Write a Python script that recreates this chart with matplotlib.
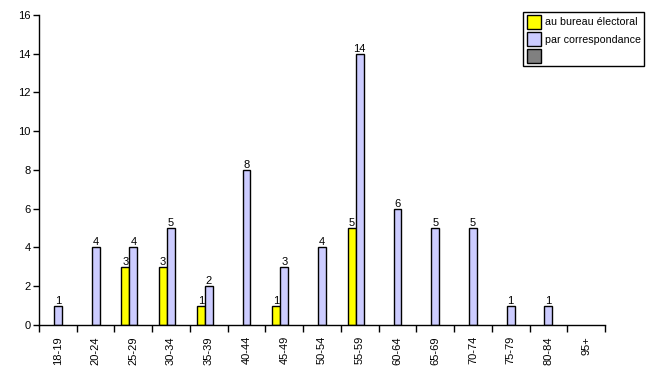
import matplotlib
matplotlib.use("Agg")
import matplotlib.pyplot as plt
import numpy as np
from matplotlib.patches import Patch

plt.rcParams["font.family"] = ["Liberation Sans", "DejaVu Sans"]
plt.rcParams["font.size"] = 8

categories = ["18-19", "20-24", "25-29", "30-34", "35-39", "40-44", "45-49",
              "50-54", "55-59", "60-64", "65-69", "70-74", "75-79", "80-84", "95+"]
bureau = [0, 0, 3, 3, 1, 0, 1, 0, 5, 0, 0, 0, 0, 0, 0]
correspondance = [1, 4, 4, 5, 2, 8, 3, 4, 14, 6, 5, 5, 1, 1, 0]
autre = [0] * len(categories)

series = [("au bureau électoral", bureau, "#ffff00"),
          ("par correspondance", correspondance, "#ccccff"),
          ("", autre, "#808080")]

fig = plt.figure(figsize=(6.53, 3.73), dpi=100)
ax = fig.add_axes([0.0597, 0.1287, 0.8668, 0.8311])

x = np.arange(len(categories)) + 0.5
w = 0.21
for i, (label, vals, color) in enumerate(series):
    offs = (i - 1) * w
    for xi, v in zip(x, vals):
        if v <= 0:
            continue
        ax.bar(xi + offs, v, width=w, color=color, edgecolor="black", linewidth=1.0)
        ax.text(xi + offs, v, str(v), ha="center", va="bottom", fontsize=8)

ax.set_xlim(0, len(categories))
ax.set_ylim(0, 16)
ax.set_yticks(range(0, 17, 2))
ax.set_xticks(np.arange(len(categories) + 1))
ax.set_xticklabels([])
ax.set_xticks(x, minor=True)
ax.set_xticklabels(categories, minor=True, rotation=90)
ax.tick_params(axis="x", which="minor", length=0, pad=8)
ax.tick_params(axis="x", which="major", length=5, width=1)
ax.tick_params(axis="y", length=4, width=1, pad=2)
for s in ("top", "right"):
    ax.spines[s].set_visible(False)
for s in ("left", "bottom"):
    ax.spines[s].set_linewidth(1)

handles = [Patch(facecolor=c, edgecolor="black", label=l) for l, _, c in series]
fig.legend(handles=handles, loc="upper right", bbox_to_anchor=(644 / 653, 1 - 12 / 373),
           borderaxespad=0, frameon=True, fancybox=False, edgecolor="black", framealpha=1,
           handlelength=1.3, handleheight=1.55, handletextpad=0.4,
           labelspacing=0.35, borderpad=0.3, fontsize=7.7)

fig.savefig("out.png", dpi=100, facecolor="white")
